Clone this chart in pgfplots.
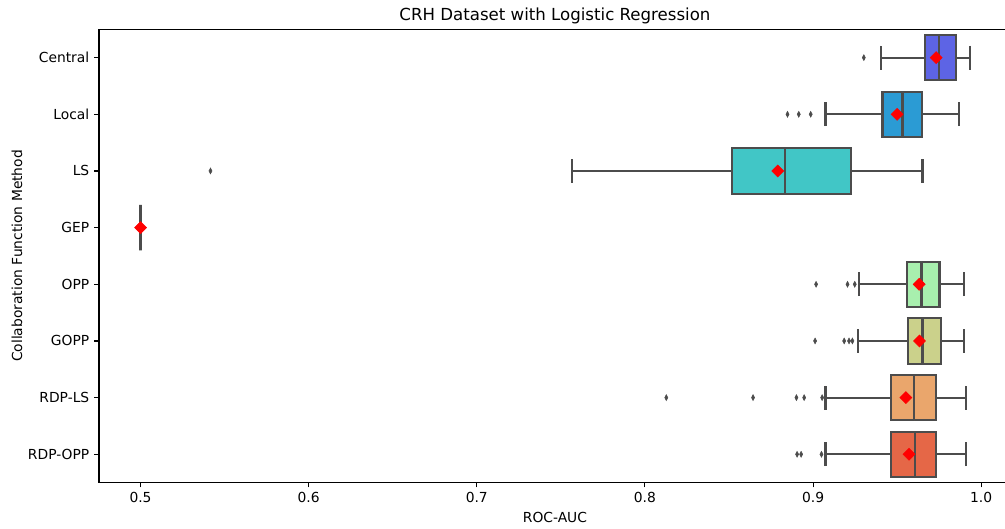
\documentclass[border=0pt]{standalone}
\usepackage{fontspec}
\setmainfont{DejaVu Sans}
\usepackage{pgfplots}
\pgfplotsset{compat=1.18}
\usepgfplotslibrary{statistics}
\definecolor{cCentral}{RGB}{93,100,229}
\definecolor{cLocal}{RGB}{43,155,212}
\definecolor{cLS}{RGB}{65,198,198}
\definecolor{cGEP}{RGB}{120,230,200}
\definecolor{cOPP}{RGB}{168,239,174}
\definecolor{cGOPP}{RGB}{203,209,139}
\definecolor{cRDPLS}{RGB}{234,166,108}
\definecolor{cRDPOPP}{RGB}{229,103,71}
\definecolor{lgray}{RGB}{76,76,76}
\pgfplotsset{
  bx/.style={boxplot/draw direction=x, draw=lgray, line width=1.5bp,
    boxplot/box extend=0.8, boxplot/whisker extend=0.42},
}
\begin{document}
\begin{tikzpicture}
\useasboundingbox (0,0) rectangle (723.6bp,380.88bp);
\begin{axis}[
  at={(71.28bp,33.4bp)}, anchor=south west,
  width=656.6bp, height=326.4bp, scale only axis,
  xmin=0.4753, xmax=1.0177, ymin=-0.5, ymax=7.5,
  axis line style={line width=0.8bp},
  xtick={0.5,0.6,0.7,0.8,0.9,1.0},
  xticklabels={0.5,0.6,0.7,0.8,0.9,1.0},
  ytick={0,1,2,3,4,5,6,7},
  yticklabels={RDP-OPP,RDP-LS,GOPP,OPP,GEP,LS,Local,Central},
  xtick pos=left, ytick pos=left, tick align=outside,
  major tick length=3.5bp,
  every tick/.style={line width=0.8bp, black},
  tick label style={font=\fontsize{10}{12}\selectfont},
  xlabel={ROC-AUC}, ylabel={Collaboration Function Method},
  every axis x label/.style={at={(rel axis cs:0.5,0)}, anchor=center, yshift=-25bp, font=\fontsize{10}{12}\selectfont},
  every axis y label/.style={at={(rel axis cs:0,0.5)}, anchor=center, rotate=90, yshift=59bp, font=\fontsize{10}{12}\selectfont},
  title={CRH Dataset with Logistic Regression},
  every axis title/.style={at={(rel axis cs:0.5,1)}, anchor=base, yshift=6bp, font=\fontsize{12}{14}\selectfont},
]
% Central
\addplot[bx, fill=cCentral, boxplot prepared={draw position=7, lower whisker=0.9403, lower quartile=0.9666, median=0.9748, upper quartile=0.9849, upper whisker=0.9935}] coordinates {};
% Local
\addplot[bx, fill=cLocal, boxplot prepared={draw position=6, lower whisker=0.9074, lower quartile=0.9413, median=0.9532, upper quartile=0.9647, upper whisker=0.9869}] coordinates {};
% LS
\addplot[bx, fill=cLS, boxplot prepared={draw position=5, lower whisker=0.7566, lower quartile=0.8518, median=0.8833, upper quartile=0.9224, upper whisker=0.9651}] coordinates {};
% GEP
\addplot[bx, fill=cGEP, boxplot prepared={draw position=4, lower whisker=0.5, lower quartile=0.5, median=0.5, upper quartile=0.5, upper whisker=0.5}] coordinates {};
% OPP
\addplot[bx, fill=cOPP, boxplot prepared={draw position=3, lower whisker=0.9272, lower quartile=0.9556, median=0.9645, upper quartile=0.9752, upper whisker=0.9897}] coordinates {};
% GOPP
\addplot[bx, fill=cGOPP, boxplot prepared={draw position=2, lower whisker=0.9266, lower quartile=0.9562, median=0.9651, upper quartile=0.9762, upper whisker=0.9895}] coordinates {};
% RDP-LS
\addplot[bx, fill=cRDPLS, boxplot prepared={draw position=1, lower whisker=0.9074, lower quartile=0.9464, median=0.9603, upper quartile=0.9732, upper whisker=0.9907}] coordinates {};
% RDP-OPP
\addplot[bx, fill=cRDPOPP, boxplot prepared={draw position=0, lower whisker=0.9074, lower quartile=0.9464, median=0.9605, upper quartile=0.9730, upper whisker=0.9909}] coordinates {};
% outliers
\addplot[only marks, mark=diamond*, mark size=2.1bp, color=lgray, mark options={xscale=0.7}] coordinates {
 (0.9302,7)
 (0.8848,6) (0.8915,6) (0.8986,6)
 (0.5416,5)
 (0.9018,3) (0.9205,3) (0.9248,3)
 (0.9012,2) (0.9185,2) (0.9214,2) (0.9234,2)
 (0.8127,1) (0.8643,1) (0.8901,1) (0.8947,1) (0.9054,1)
 (0.8905,0) (0.8929,0) (0.9050,0)
};
% means
\addplot[only marks, mark=square*, mark size=3.05bp, color=red, mark options={rotate=45, fill=red, draw=red}] coordinates {
 (0.9732,7) (0.9500,6) (0.8790,5) (0.5000,4) (0.9631,3) (0.9633,2) (0.9552,1) (0.9571,0)
};
\end{axis}
\end{tikzpicture}
\end{document}
